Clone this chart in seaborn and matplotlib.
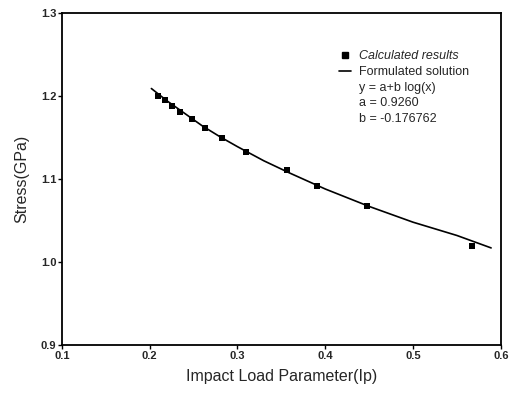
import matplotlib
matplotlib.use("Agg")
import pandas as pd
import seaborn as sns
import matplotlib.pyplot as plt
from matplotlib.lines import Line2D

# calculated results
ip_calc = [0.209, 0.217, 0.226, 0.235, 0.248, 0.263, 0.283, 0.310, 0.356, 0.391, 0.448, 0.567]
stress_calc = [1.200, 1.195, 1.188, 1.181, 1.172, 1.161, 1.150, 1.132, 1.111, 1.092, 1.067, 1.019]

# formulated solution curve
ip_fit = [0.202, 0.22, 0.24, 0.26, 0.28, 0.30, 0.33, 0.36, 0.40, 0.45, 0.50, 0.55, 0.589]
stress_fit = [1.209, 1.194, 1.179, 1.164, 1.151, 1.139, 1.122, 1.107, 1.088, 1.067, 1.048, 1.032, 1.017]

x_ticks = [0.1, 0.2, 0.3, 0.4, 0.5, 0.6]
y_ticks = [0.9, 1.0, 1.1, 1.2, 1.3]
formula_lines = ["y = a+b log(x)", "a = 0.9260", "b = -0.176762"]

calc = pd.DataFrame({"Ip": ip_calc, "Stress": stress_calc})
fit = pd.DataFrame({"Ip": ip_fit, "Stress": stress_fit})

sns.set_theme(style="ticks")
plt.rcParams["font.family"] = ["Liberation Sans", "DejaVu Sans"]

fig = plt.figure(figsize=(5.11, 3.93), dpi=100)
ax = fig.add_axes([0.121, 0.122, 0.859, 0.845])

sns.lineplot(data=fit, x="Ip", y="Stress", color="black", linewidth=1.2, ax=ax)
sns.scatterplot(data=calc, x="Ip", y="Stress", marker="s", s=22, color="black",
                edgecolor="black", linewidth=0, ax=ax, zorder=3)

ax.set_xlim(0.1, 0.6)
ax.set_ylim(0.9, 1.3)
ax.set_xticks(x_ticks)
ax.set_yticks(y_ticks)
ax.set_xticklabels([f"{v:.1f}" for v in x_ticks], fontweight="bold", fontsize=8)
ax.set_yticklabels([f"{v:.1f}" for v in y_ticks], fontweight="bold", fontsize=8)
ax.tick_params(axis="both", direction="out", length=3, width=1, pad=1, color="black")
ax.tick_params(top=False, right=False)
for sp in ax.spines.values():
    sp.set_linewidth(1.3)
    sp.set_color("black")

ax.set_xlabel("Impact Load Parameter(Ip)", fontsize=11.5, labelpad=6)
ax.set_ylabel("Stress(GPa)", fontsize=11.5, labelpad=8)

handles = [
    Line2D([], [], marker="s", color="black", linestyle="none", markersize=5),
    Line2D([], [], color="black", linewidth=1.2),
]
labels = ["Calculated results", "Formulated solution"]
for t in formula_lines:
    handles.append(Line2D([], [], linestyle="none"))
    labels.append(t)
leg = ax.legend(handles, labels, loc="upper left", bbox_to_anchor=(0.62, 0.903),
                frameon=False, fontsize=9, handlelength=1.0, handletextpad=0.6,
                labelspacing=0.3, borderaxespad=0)
leg.get_texts()[0].set_style("italic")

fig.savefig("out.png", dpi=100)
